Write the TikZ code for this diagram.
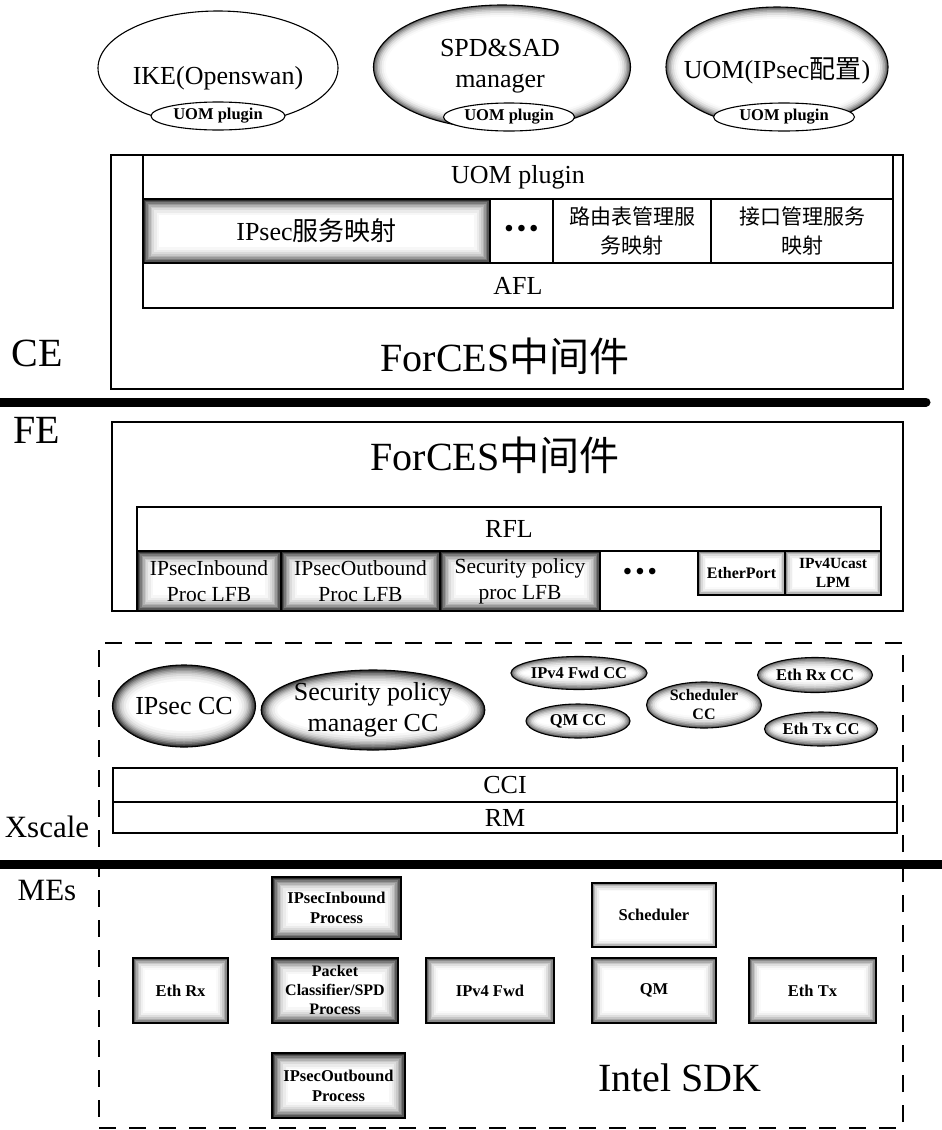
\documentclass[tikz,border=0pt]{standalone}
\usepackage{fontspec}
\setmainfont{Liberation Serif}
\newfontfamily\cjk{Noto Sans CJK SC}
\usetikzlibrary{shapes.geometric,calc}
\newcommand\zh[1]{{\cjk #1}}
\newcommand\fsz[2]{\fontsize{#1}{#2}\selectfont}
\def\rimD{82/0,66/1.5,52/3,40/4.5,30/6,21/7.5,14/9,8/11,3/13.5,0/16}
\def\rimM{62/0,46/1.5,33/3,22/4.5,13/6,6/8,2/10,0/12}
\def\rimL{45/0,28/1.5,15/3,7/4.5,2/6.5,0/8}
\tikzset{
  every node/.style={inner sep=0pt, outer sep=0pt, align=center},
  box/.style={draw, line width=1.1pt, rectangle},
  rimr/.style={path picture={\foreach \c/\d in #1 {\fill[black!\c] ([shift={(\d pt,-\d pt)}]path picture bounding box.north west) rectangle ([shift={(-\d pt,\d pt)}]path picture bounding box.south east);}}},
  rime/.style={path picture={\foreach \c/\d in #1 {\fill[black!\c] let \p1=(path picture bounding box.north east), \p2=(path picture bounding box.center) in (\p2) ellipse [x radius={\x1-\x2-\d pt}, y radius={\y1-\y2-\d pt}];}}},
  rimd/.style={rimr=\rimD},
  rimm/.style={rimr=\rimM},
  riml/.style={rimr=\rimL},
  ell/.style={draw, ellipse, line width=1.1pt},
  thickline/.style={line width=9pt, line cap=round},
  dashbox/.style={draw, rectangle, line width=2.4pt, dash pattern=on 17pt off 13pt},
  big/.style={font=\fsz{26}{31}},
  mid/.style={font=\fsz{21.5}{26}},
  sml/.style={font=\fsz{16.5}{20}\bfseries},
  huge/.style={font=\fsz{40}{44}},
  side/.style={font=\fsz{31}{34}}
}
% style, name, x1, y1, x2, y2, text
\newcommand\rnode[7]{\node[box,#1,minimum width={(#5-#3)*1pt},minimum height={(#6-#4)*1pt}] (#2) at ({(#3+#5)/2},{(#4+#6)/2}) {#7};}
\begin{document}
\begin{tikzpicture}[x=1pt,y=-1pt]
\useasboundingbox (0,0) rectangle (942,1130);
% ---------- top ellipses ----------
\node[ell, minimum width=240pt, minimum height=114pt] (ike) at (218,68) {};
\node[big] (ike-t) at (218,78) {IKE(Openswan)};
\node[ell, fill=white, font=\fsz{16.5}{20}\bfseries, minimum width=134pt, minimum height=28pt] (ike-p) at (218,116) {UOM plugin};
\node[ell, rime=\rimM, minimum width=257pt, minimum height=124pt] (spd) at (502,67) {};
\node[big] (spd-t) at (500,66) {SPD\&SAD\\manager};
\node[ell, fill=white, font=\fsz{16.5}{20}\bfseries, minimum width=131pt, minimum height=28pt] (spd-p) at (509,117) {UOM plugin};
\node[ell, rime=\rimM, minimum width=222pt, minimum height=120pt] (uom) at (777,67) {};
\node[big] (uom-t) at (777,71) {UOM(IPsec\zh{配置})};
\node[ell, fill=white, font=\fsz{16.5}{20}\bfseries, minimum width=141pt, minimum height=28pt] (uom-p) at (784,117) {UOM plugin};
% ---------- CE ----------
\rnode{}{ce}{111}{155}{903}{389}{}
\rnode{big}{uombar}{143}{155}{893}{199}{UOM plugin}
\rnode{rimd,big}{ipmap}{143}{199}{490}{263}{IPsec\zh{服务映射}}
\rnode{font=\fsz{24}{26}\bfseries}{dots1}{490}{199}{553}{263}{•\,•\,•}
\rnode{font=\fsz{21}{29}}{route}{553}{199}{711}{263}{\zh{路由表管理服}\\\zh{务映射}}
\rnode{font=\fsz{21}{29}}{iface}{711}{199}{893}{263}{\zh{接口管理服务}\\\zh{映射}}
\rnode{big}{afl}{143}{263}{893}{308}{AFL}
\node[huge] (ce-t) at (505,356) {ForCES\zh{中间件}};
\node[huge] (ce-l) at (37,353) {CE};
\coordinate (l1a) at (-12,402);
\coordinate (l1b) at (926,402);
\draw[thickline] (l1a) -- (l1b);
% ---------- FE ----------
\rnode{}{fe}{112}{422}{903}{611}{}
\node[huge] (fe-t) at (495,455) {ForCES\zh{中间件}};
\node[huge] (fe-l) at (37,430) {FE};
\rnode{big}{rfl}{137}{507}{881}{551}{RFL}
\rnode{rimd,mid}{lfb1}{137}{551}{281}{611}{IPsecInbound\\Proc LFB}
\rnode{rimd,mid}{lfb2}{281}{551}{440}{611}{IPsecOutbound\\Proc LFB}
\rnode{rimd,mid}{lfb3}{440}{551}{600}{611}{Security policy\\proc LFB}
\node[font=\fsz{24}{26}\bfseries] (dots2) at (640,574) {•\,•\,•};
\rnode{riml,font=\fsz{16}{20}\bfseries}{ether}{698}{551}{785}{595}{EtherPort}
\rnode{riml,font=\fsz{15.5}{19}\bfseries}{ipv4u}{785}{551}{881}{595}{IPv4Ucast\\LPM}
% ---------- Xscale ----------
\node[dashbox, minimum width=804pt, minimum height=485pt] (xs) at (501,885.5) {};
\node[ell, rime=\rimD, big, minimum width=143pt, minimum height=82pt] (ipcc) at (184,706) {IPsec CC};
\node[ell, rime=\rimD, big, minimum width=212pt, minimum height=80pt] (spcc) at (373,710) {Security policy\\manager CC};
\node[ell, rime=\rimM, sml, minimum width=122pt, minimum height=33pt] (ipfcc) at (579,673) {IPv4 Fwd CC};
\node[ell, rime=\rimM, sml, minimum width=104pt, minimum height=34pt] (qmcc) at (578,721) {QM CC};
\node[ell, rime=\rimM, font=\fsz{16}{19}\bfseries, minimum width=115pt, minimum height=46pt] (schcc) at (704,705) {Scheduler\\CC};
\node[ell, rime=\rimM, sml, minimum width=115pt, minimum height=35pt] (erxcc) at (815,675) {Eth Rx CC};
\node[ell, rime=\rimM, sml, minimum width=113pt, minimum height=34pt] (etxcc) at (821,729) {Eth Tx CC};
\rnode{big}{cci}{113}{768}{897}{802}{CCI}
\rnode{big}{rm}{113}{802}{897}{833}{RM}
\node[side] (xs-l) at (47,827) {Xscale};
\coordinate (l2a) at (-12,864);
\coordinate (l2b) at (954,864);
\draw[thickline] (l2a) -- (l2b);
% ---------- MEs ----------
\node[side] (me-l) at (47,890) {MEs};
\rnode{rimd,sml}{ipin}{272}{877}{401}{939}{IPsecInbound\\Process}
\rnode{riml,sml}{sched}{592}{883}{716}{947}{Scheduler}
\rnode{rimm,sml}{ethrx}{133}{958}{228}{1023}{Eth Rx}
\rnode{rimd,font=\fsz{16}{19}\bfseries}{pcls}{272}{958}{398}{1023}{Packet\\Classifier/SPD\\Process}
\rnode{rimm,sml}{ipfwd}{426}{958}{554}{1023}{IPv4 Fwd}
\rnode{rimm,sml}{qm}{592}{958}{716}{1023}{QM}
\rnode{rimm,sml}{ethtx}{749}{958}{876}{1023}{Eth Tx}
\rnode{rimd,sml}{ipout}{272}{1053}{405}{1118}{IPsecOutbound\\Process}
\node[huge] (sdk) at (680,1078) {Intel SDK};
\end{tikzpicture}
\end{document}
